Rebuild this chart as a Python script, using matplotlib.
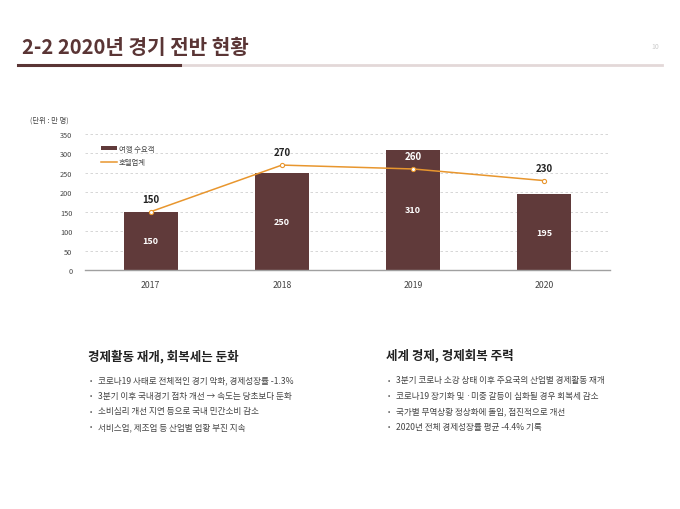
import matplotlib
matplotlib.use("Agg")
import matplotlib.pyplot as plt
from matplotlib.lines import Line2D

plt.rcParams['font.family'] = ['Noto Sans CJK KR', 'DejaVu Sans']

years = ["2017", "2018", "2019", "2020"]
demand = [150, 250, 310, 195]      # 여행 수요객 (bars)
hotel = [150, 270, 260, 230]       # 호텔업계 (line)
y_ticks = [0, 50, 100, 150, 200, 250, 300, 350]

left_title = "경제활동 재개, 회복세는 둔화"
left_items = [
    "코로나19 사태로 전체적인 경기 악화, 경제성장률 -1.3%",
    "3분기 이후 국내경기 점차 개선 → 속도는 당초보다 둔화",
    "소비심리 개선 지연 등으로 국내 민간소비 감소",
    "서비스업, 제조업 등 산업별 업황 부진 지속",
]
right_title = "세계 경제, 경제회복 주력"
right_items = [
    "3분기 코로나 소강 상태 이후 주요국의 산업별 경제활동 재개",
    "코로나19 장기화 및 ·미중 갈등이 심화될 경우 회복세 감소",
    "국가별 무역상황 정상화에 돌입, 점진적으로 개선",
    "2020년 전체 경제성장률 평균 -4.4% 기록",
]

BROWN = "#603a3a"
ORANGE = "#e8962e"
W, H = 680, 510

fig = plt.figure(figsize=(6.8, 5.1), dpi=100)

def fx(px):
    return px / W

def fy(py):
    return 1 - py / H

# header
fig.text(fx(22), fy(48), "2-2 2020년 경기 전반 현황", fontsize=14.5, fontweight="bold",
         color="#5a3535", va="center", ha="left")
fig.text(fx(655), fy(47), "10", fontsize=5, color="#cccccc", va="center", ha="center")
fig.add_artist(plt.Line2D([fx(18), fx(662)], [fy(66), fy(66)], color="#e3d8d8", lw=2))
fig.add_artist(plt.Line2D([fx(18), fx(180)], [fy(66), fy(66)], color="#5a3535", lw=2.2))

# chart
ax = fig.add_axes([fx(85), fy(271), fx(610) - fx(85), fy(135) - fy(271)])
x = list(range(len(years)))
bars = ax.bar(x, demand, width=0.41, color=BROWN, zorder=2, label="여행 수요객")
ax.plot(x, hotel, color=ORANGE, lw=1.1, marker="o", markersize=3,
        markerfacecolor="white", markeredgecolor=ORANGE, markeredgewidth=0.8,
        zorder=3, label="호텔업계")

for i, v in enumerate(demand):
    ax.text(i, v / 2, str(v), color="white", fontsize=6.5, fontweight="bold",
            ha="center", va="center", zorder=4)
for i, v in enumerate(hotel):
    inside = v < demand[i]
    ax.text(i, v + 33, str(v), color="white" if inside else "#222222",
            fontsize=7, fontweight="bold", ha="center", va="center", zorder=4)

ax.set_xlim(-0.5, 3.5)
ax.set_ylim(0, 350)
ax.set_yticks(y_ticks)
ax.set_xticks(x)
ax.set_xticklabels(years)
ax.tick_params(axis="y", labelsize=5.3, colors="#444444", length=0, pad=9)
ax.tick_params(axis="x", labelsize=6.3, colors="#444444", length=0, pad=7)
ax.grid(axis="y", linestyle=(0, (3, 3)), color="#d0d0d0", lw=0.6, zorder=0)
for s in ["top", "right", "left"]:
    ax.spines[s].set_visible(False)
ax.spines["bottom"].set_color("#a0a0a0")
ax.spines["bottom"].set_linewidth(1)

line_handle = Line2D([], [], color=ORANGE, lw=1.1)
leg = ax.legend([bars, line_handle], ["여행 수요객", "호텔업계"], loc="upper left",
                bbox_to_anchor=(0.02, 0.96), frameon=False,
                fontsize=5.3, handlelength=2.2, handleheight=0.6, labelspacing=0.8,
                handletextpad=0.3, borderaxespad=0.3)
for t in leg.get_texts():
    t.set_color("#444444")

fig.text(fx(30), fy(121), "(단위 : 만 명)", fontsize=5.3, color="#444444", va="center")

# text blocks
def block(x0, title, items):
    fig.text(fx(x0), fy(356), title, fontsize=9, fontweight="bold", color="#222222",
             va="center")
    for k, item in enumerate(items):
        yy = 381 + k * 15.5
        fig.text(fx(x0 + 2), fy(yy), "•", fontsize=5, color="#555555", va="center")
        fig.text(fx(x0 + 10), fy(yy), item, fontsize=6.2, color="#444444", va="center")

block(88, left_title, left_items)
block(386, right_title, right_items)

fig.savefig("out.png", dpi=100)
